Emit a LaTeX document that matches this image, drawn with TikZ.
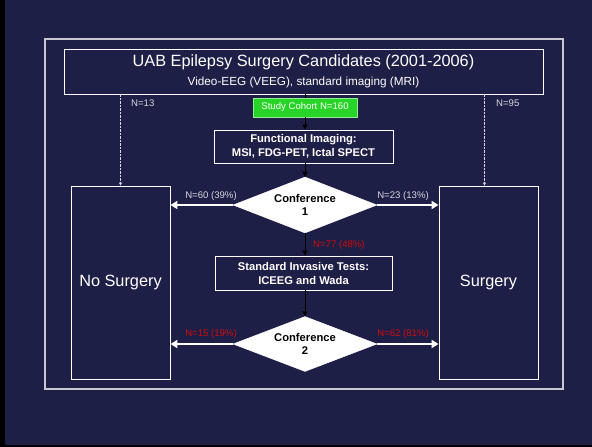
\documentclass[tikz,border=0pt]{standalone}
\usepackage{fontspec}
\setmainfont{Liberation Sans}
\usetikzlibrary{shapes.geometric,arrows.meta}

\definecolor{slidebg}{RGB}{29,31,70}
\definecolor{framegrey}{RGB}{200,200,210}
\definecolor{labelgrey}{RGB}{215,215,225}
\definecolor{cohortgreen}{RGB}{40,212,40}
\definecolor{cohortedge}{RGB}{150,235,150}
\definecolor{countred}{RGB}{210,10,10}

\tikzset{
  box/.style={draw=white, line width=0.9pt, rectangle, inner sep=0pt, align=center, text=white},
  bigtext/.style={font=\fontsize{16.3}{19}\selectfont},
  stagebox/.style={box, font=\bfseries\fontsize{11.2}{14}\selectfont},
  decision/.style={diamond, fill=white, draw=white, inner sep=0pt, aspect=2.57,
    minimum width=144pt, minimum height=56pt, align=center,
    font=\bfseries\fontsize{11.2}{13.5}\selectfont, text=black},
  count/.style={font=\fontsize{9.6}{11}\selectfont, text=labelgrey, inner sep=0pt},
  redcount/.style={count, text=countred},
  flow/.style={draw=black, line width=1pt, -{Triangle[length=5pt,width=5pt]}},
  outcome/.style={draw=white, line width=1.8pt, -{Triangle[length=7pt,width=8pt]}},
  direct/.style={draw=labelgrey, line width=0.5pt, dash pattern=on 2.5pt off 1pt,
    -{Triangle[length=3pt,width=3pt]}}
}

\begin{document}
\begin{tikzpicture}[x=1pt,y=-1pt]
  % slide background and its dark edge
  \fill[slidebg] (0,0) rectangle (592,447);
  \fill[black] (0,0) rectangle (5,447);
  \fill[black] (0,445) rectangle (592,447);
  \useasboundingbox (0,0) rectangle (592,447);

  % outer frame
  \draw[framegrey, line width=1.2pt] (45,39) rectangle (563,389);

  % boxes
  \node[box, minimum width=479pt, minimum height=45pt] (title) at (303.5,71.5)
    {{\fontsize{16.3}{19}\selectfont UAB Epilepsy Surgery Candidates (2001-2006)}\\[7pt]
     {\fontsize{11.75}{14}\selectfont Video-EEG (VEEG), standard imaging (MRI)}};

  \node[box, draw=cohortedge, fill=cohortgreen, minimum width=104pt, minimum height=19pt,
        font=\fontsize{9.6}{11}\selectfont] (cohort) at (305,107.5) {Study Cohort N=160};

  \node[stagebox, minimum width=179pt, minimum height=33pt] (func) at (303.5,146.5)
    {Functional Imaging:\\MSI, FDG-PET, Ictal SPECT};

  \node[decision] (conf1) at (305,205) {Conference\\1};

  \node[stagebox, minimum width=177pt, minimum height=34pt] (invasive) at (303.5,273)
    {Standard Invasive Tests:\\ICEEG and Wada};

  \node[decision, minimum height=55pt] (conf2) at (305,344) {Conference\\2};

  \node[box, bigtext, minimum width=99pt, minimum height=193pt] (nosurg) at (120.5,282.5) {No Surgery};
  \node[box, bigtext, minimum width=99pt, minimum height=193pt] (surg) at (488.5,282.5) {Surgery};

  % main pathway
  \draw[draw=black, line width=1pt] (title.south -| cohort.north) -- (cohort.north);
  \draw[flow] (cohort.south) -- (cohort.south |- func.north);
  \draw[flow] (func.south -| conf1.north) -- (conf1.north);
  \draw[flow] (conf1.south) -- (conf1.south |- invasive.north);
  \draw[flow] (invasive.south -| conf2.north) -- (conf2.north);

  % direct referrals after the first evaluation
  \draw[direct] (title.south -| nosurg.north) -- (nosurg.north);
  \draw[direct] ([xshift=-4pt]title.south -| surg.north) -- ([xshift=-4pt]surg.north);

  % conference outcomes
  \draw[outcome] (conf1.west) -- (conf1.west -| nosurg.east);
  \draw[outcome] (conf1.east) -- (conf1.east -| surg.west);
  \draw[outcome] (conf2.west) -- (conf2.west -| nosurg.east);
  \draw[outcome] (conf2.east) -- (conf2.east -| surg.west);

  % counts
  \node[count, anchor=west] (n13) at (131,103) {N=13};
  \node[count, anchor=west] (n95) at (496,103) {N=95};
  \node[count] (n60) at (211,196) {N=60 (39\%)};
  \node[count] (n23) at (403,196) {N=23 (13\%)};
  \node[redcount, anchor=west] (n77) at (313,245) {N=77 (48\%)};
  \node[redcount] (n15) at (211,334) {N=15 (19\%)};
  \node[redcount] (n62) at (403,334) {N=62 (81\%)};
\end{tikzpicture}
\end{document}
